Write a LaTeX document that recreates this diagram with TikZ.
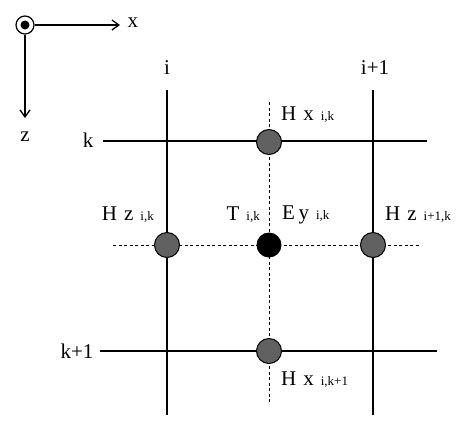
\documentclass[tikz,border=0pt]{standalone}
\usepackage{fontspec}
\setmainfont{Liberation Serif}
\usetikzlibrary{arrows.meta}
\begin{document}
\begin{tikzpicture}[x=1pt,y=-1pt,
  grid/.style={line width=2.2pt},
  dline/.style={line width=1pt,dash pattern=on 3pt off 2.5pt},
  hdot/.style={circle,draw=black,line width=1pt,fill=black!62,minimum size=25pt,inner sep=0pt},
  edot/.style={circle,fill=black,minimum size=25pt,inner sep=0pt},
  idx/.style={font=\fontsize{21}{23}\selectfont},
  lab/.style={font=\fontsize{21}{23}\selectfont},
  axarr/.style={line width=1.3pt,-{Straight Barb[length=7pt,width=10pt,line width=1.3pt]}}]
\useasboundingbox (0,0) rectangle (458,421);
\newcommand\sbs[1]{{\fontsize{13}{14}\selectfont #1}}
% axes
\node[circle,draw,line width=1.2pt,minimum size=18pt,inner sep=0pt] (o) at (25,25) {};
\fill (o.center) circle (4.5pt);
\coordinate (xe) at (120,25);
\coordinate (ze) at (25,118);
\draw[axarr] (o.east) -- (xe);
\draw[axarr] (o.south) -- (ze);
\node[lab,anchor=west] (xl) at (124,23) {x};
\node[lab] (zl) at (25,137) {z};
% grid lines
\coordinate (i1) at (167,90); \coordinate (i2) at (167,415);
\coordinate (j1) at (373,90); \coordinate (j2) at (373,415);
\coordinate (k1) at (103,141); \coordinate (k2) at (427,141);
\coordinate (m1) at (100,351); \coordinate (m2) at (437,351);
\coordinate (d1) at (269,102); \coordinate (d2) at (269,402);
\coordinate (h1) at (113,245); \coordinate (h2) at (420,245);
\draw[dline] (d1) -- (d2);
\draw[dline] (h1) -- (h2);
\draw[grid] (i1) -- (i2);
\draw[grid] (j1) -- (j2);
\draw[grid] (k1) -- (k2);
\draw[grid] (m1) -- (m2);
% index labels
\node[idx] (il) at (167,68) {i};
\node[idx] (jl) at (375,68) {i+1};
\node[idx,anchor=east] (kl) at (97,140) {k};
\node[idx,anchor=east] (ml) at (97,351) {k+1};
% dots
\node[hdot] (hx) at (269,142) {};
\node[hdot] (hz) at (167,245) {};
\node[edot] (ey) at (269,245) {};
\node[hdot] (hz1) at (373,245) {};
\node[hdot] (hx1) at (269,351) {};
% field labels
\node[lab,anchor=west,inner sep=0pt] (hxl) at (281,115) {H\,\,x\,\,\sbs{i,k}};
\node[lab,anchor=east,inner sep=0pt] (hzl) at (154,215) {H\,\,z\,\,\sbs{i,k}};
\node[lab,anchor=east,inner sep=0pt] (tl) at (260,215) {T\,\,\sbs{i,k}};
\node[lab,anchor=west,inner sep=0pt] (eyl) at (282,215) {E\,y\,\,\sbs{i,k}};
\node[lab,anchor=west,inner sep=0pt] (hz1l) at (385,215) {H\,\,z\,\,\sbs{i+1,k}};
\node[lab,anchor=west,inner sep=0pt] (hx1l) at (281,380) {H\,\,x\,\,\sbs{i,k+1}};
\end{tikzpicture}
\end{document}
